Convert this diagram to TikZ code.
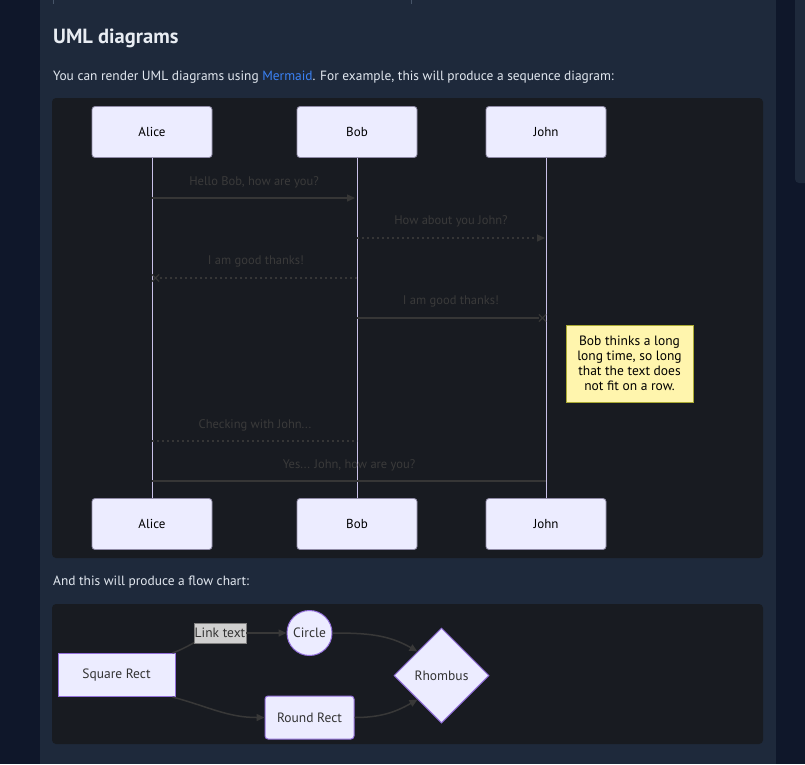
\documentclass[tikz,border=0pt]{standalone}
\usepackage{fontspec}
\setmainfont{PT Sans}
\newfontfamily\diagfont{PT Sans}
\usetikzlibrary{arrows.meta, positioning, shapes.geometric, shapes.misc}

\definecolor{pagebg}{HTML}{0F172A}
\definecolor{panel}{HTML}{1E293B}
\definecolor{diagbg}{HTML}{181B21}
\definecolor{headtext}{HTML}{E8ECF2}
\definecolor{bodytext}{HTML}{E2E8F0}
\definecolor{linkblue}{HTML}{3B82F6}
\definecolor{tickline}{HTML}{475569}
\definecolor{actorfill}{HTML}{ECECFF}
\definecolor{actorline}{HTML}{8F8AA6}
\definecolor{lifeline}{HTML}{C9C1E8}
\definecolor{msgline}{HTML}{363636}
\definecolor{msgtext}{HTML}{3A3A3A}
\definecolor{notefill}{HTML}{FFF5AD}
\definecolor{noteline}{HTML}{AAAA33}
\definecolor{flowfill}{HTML}{ECECFF}
\definecolor{flowline}{HTML}{9370DB}
\definecolor{flowtext}{HTML}{333333}
\definecolor{edgecol}{HTML}{383838}
\definecolor{labelfill}{HTML}{D0D0D0}

\begin{document}
\begin{tikzpicture}[x=1pt, y=-1pt,
    pagetext/.style={anchor=west, inner sep=0pt, text=bodytext, font=\fontsize{13.4}{16}\selectfont},
    actor/.style={draw=actorline, fill=actorfill, rounded corners=3pt, line width=0.8pt,
        minimum width=120pt, minimum height=51pt, inner sep=0pt, text=black,
        font=\diagfont\fontsize{13}{15}\selectfont},
    life/.style={draw=lifeline, line width=1pt},
    msg/.style={draw=msgline, line width=1.5pt},
    dotmsg/.style={msg, dash pattern=on 2pt off 3pt},
    arrowed/.style={-{Triangle[length=8pt,width=7pt]}},
    msglabel/.style={inner sep=0pt, text=msgtext, font=\diagfont\fontsize{12.5}{15}\selectfont},
    xend/.style={cross out, draw=msgline, line width=1.2pt, minimum size=6pt, inner sep=0pt},
    notebox/.style={draw=noteline, fill=notefill, line width=1pt, minimum width=127pt,
        minimum height=77pt, align=center, text=black, inner sep=0pt,
        font=\diagfont\fontsize{13.5}{15}\selectfont},
    flownode/.style={draw=flowline, fill=flowfill, line width=1pt, text=flowtext, inner sep=0pt,
        font=\diagfont\fontsize{13.5}{15}\selectfont},
    flowedge/.style={draw=edgecol, line width=1.5pt},
]
    \useasboundingbox (0,0) rectangle (805,764);

    % Page and panel
    \fill[pagebg] (0,0) rectangle (805,764);
    \fill[panel] (40,0) rectangle (776,764);
    \fill[panel, rounded corners=4pt] (795,-6) rectangle (811,183);
    \draw[tickline] (53,0) -- (53,4);
    \draw[tickline] (411,0) -- (411,4);

    % Page text
    \node[pagetext, text=headtext, font=\bfseries\fontsize{20.5}{24}\selectfont] (title) at (53,38) {UML diagrams};
    \node[pagetext] (intro) at (53,77) {You can render UML diagrams using \textcolor{linkblue}{Mermaid}. For example, this will produce a sequence diagram:};
    \node[pagetext] (flowintro) at (53,582) {And this will produce a flow chart:};

    % Sequence diagram
    \fill[diagbg, rounded corners=4pt] (52,98) rectangle (763,558);
    \node[actor] (alice) at (152,132) {Alice};
    \node[actor] (bob) at (357,132) {Bob};
    \node[actor] (john) at (546,132) {John};
    \node[actor] (aliceB) at (152,524) {Alice};
    \node[actor] (bobB) at (357,524) {Bob};
    \node[actor] (johnB) at (546,524) {John};
    \foreach \who in {alice, bob, john}
        \draw[life] (\who.south) -- (\who B.north);

    % Messages
    \node[msglabel] (m1) at (254,182) {Hello Bob, how are you?};
    \draw[msg, arrowed] (alice |- 0,198) -- ([xshift=-2pt]bob |- 0,198);
    \node[msglabel] (m2) at (451,221) {How about you John?};
    \draw[dotmsg, arrowed] (bob |- 0,238) -- ([xshift=-1pt]john |- 0,238);
    \node[msglabel] (m3) at (256,261) {I am good thanks!};
    \node[xend] (x3) at (155.5,278) {};
    \draw[dotmsg] (bob |- 0,278) -- (x3);
    \node[msglabel] (m4) at (451,301) {I am good thanks!};
    \node[xend] (x4) at (542.5,318) {};
    \draw[msg] (bob |- 0,318) -- (x4);

    % Note
    \node[notebox] (thought) at (629.5,363.5) {Bob thinks a long\\long time, so long\\that the text does\\not fit on a row.};

    \node[msglabel] (m5) at (255,425) {Checking with John...};
    \draw[dotmsg] (alice |- 0,441) -- (bob |- 0,441);
    \node[msglabel] (m6) at (349,465) {Yes... John, how are you?};
    \draw[msg] (alice |- 0,481) -- (john |- 0,481);

    % Flow chart
    \fill[diagbg, rounded corners=4pt] (52,604) rectangle (763,744);
    \node[flownode, minimum width=117pt, minimum height=43pt] (sq) at (116.5,675) {Square Rect};
    \node[flownode, circle, minimum size=45pt] (circ) at (309.5,633) {Circle};
    \node[flownode, diamond, minimum width=95pt, minimum height=95pt] (rh) at (441.5,675.5) {Rhombus};
    \node[flownode, rounded corners=3pt, minimum width=89pt, minimum height=43pt] (rr) at (309.5,717.5) {Round Rect};
    \coordinate (linkpt) at (220,633);

    \draw[flowedge] ([xshift=-3pt]sq.north east) to[out=20, in=190] (linkpt);
    \node[draw=gray, fill=labelfill, text=flowtext, inner sep=1pt, minimum width=52pt, minimum height=20pt,
        font=\diagfont\fontsize{13.5}{15}\selectfont] (link) at (linkpt) {Link text};
    \draw[flowedge, arrowed] (link.east) -- (circ.west);
    \draw[flowedge, arrowed] ([xshift=-3pt]sq.south east) to[out=-15, in=180] (rr.west);
    \draw[flowedge, arrowed] (circ.east) to[out=0, in=150] (rh.north west);
    \draw[flowedge, arrowed] (rr.east) to[out=0, in=210] (rh.south west);
\end{tikzpicture}
\end{document}
